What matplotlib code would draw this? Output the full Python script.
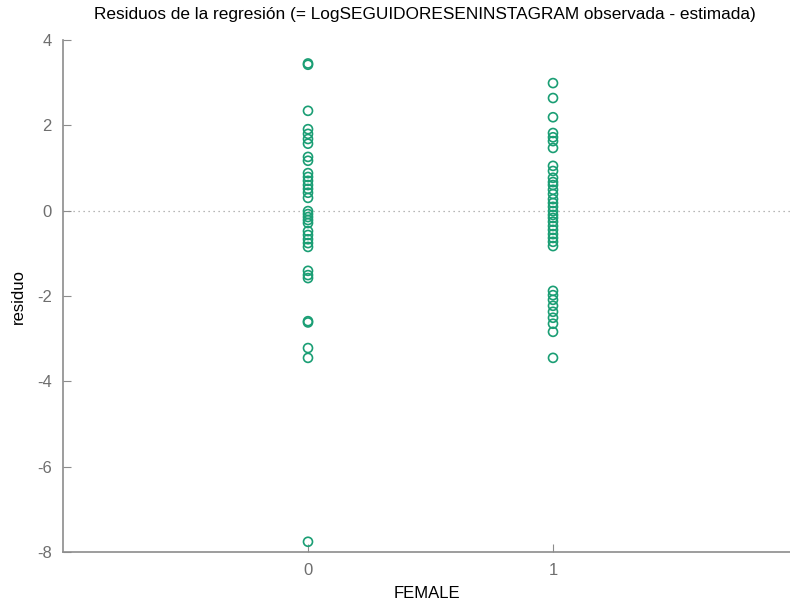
import matplotlib
matplotlib.use('Agg')
import matplotlib.pyplot as plt

plt.rcParams['font.family'] = ['Liberation Sans', 'DejaVu Sans']
plt.rcParams['axes.unicode_minus'] = False

# residuals grouped by FEMALE
resid_male = [3.45, 3.42, 2.34, 1.91, 1.80, 1.68, 1.57, 1.26, 1.17,
              0.88, 0.79, 0.70, 0.60, 0.51, 0.42, 0.30,
              -0.01, -0.08, -0.15, -0.22, -0.29,
              -0.48, -0.57, -0.67, -0.76, -0.85,
              -1.41, -1.51, -1.58, -2.59, -2.62, -3.22, -3.45, -7.76]
resid_female = [2.99, 2.64, 2.19, 1.82, 1.72, 1.63, 1.47,
                1.05, 0.93, 0.77, 0.67, 0.60, 0.49, 0.39, 0.27, 0.18, 0.09,
                -0.01, -0.10, -0.17, -0.26, -0.36, -0.45, -0.55, -0.64, -0.73, -0.83,
                -1.88, -1.98, -2.09, -2.23, -2.37, -2.51, -2.65, -2.84, -3.45]

yticks = [4, 2, 0, -2, -4, -6, -8]
xticks = [0, 1]

green = '#1a9e74'
grey = '#8c8c8c'

fig = plt.figure(figsize=(7.9, 6.09), dpi=100)
ax = fig.add_axes([63/790, 57/609, 727/790, 512/609])

ax.scatter([0]*len(resid_male), resid_male, s=42, facecolors='none',
           edgecolors=green, linewidths=1.2, zorder=3)
ax.scatter([1]*len(resid_female), resid_female, s=42, facecolors='none',
           edgecolors=green, linewidths=1.2, zorder=3)
ax.axhline(0, color='#a0a0a0', linestyle=(0, (1, 3)), linewidth=0.9, zorder=1)

ax.set_xlim(-1, -1 + 727/245)
ax.set_ylim(-8, 4)
ax.set_xticks(xticks)
ax.set_yticks(yticks)
ax.tick_params(direction='in', length=6, color=grey, labelcolor='#6e6e6e',
               labelsize=12, pad=8)
for side in ['top', 'right']:
    ax.spines[side].set_visible(False)
for side in ['left', 'bottom']:
    ax.spines[side].set_color(grey)
    ax.spines[side].set_linewidth(1.2)

ax.set_xlabel('FEMALE', fontsize=12, labelpad=6)
ax.set_ylabel('residuo', fontsize=12, labelpad=8)
fig.text(425/790, 1 - 14/609, 'Residuos de la regresión (= LogSEGUIDORESENINSTAGRAM observada - estimada)',
         ha='center', va='center', fontsize=12.4)

fig.savefig('out.png', dpi=100)
